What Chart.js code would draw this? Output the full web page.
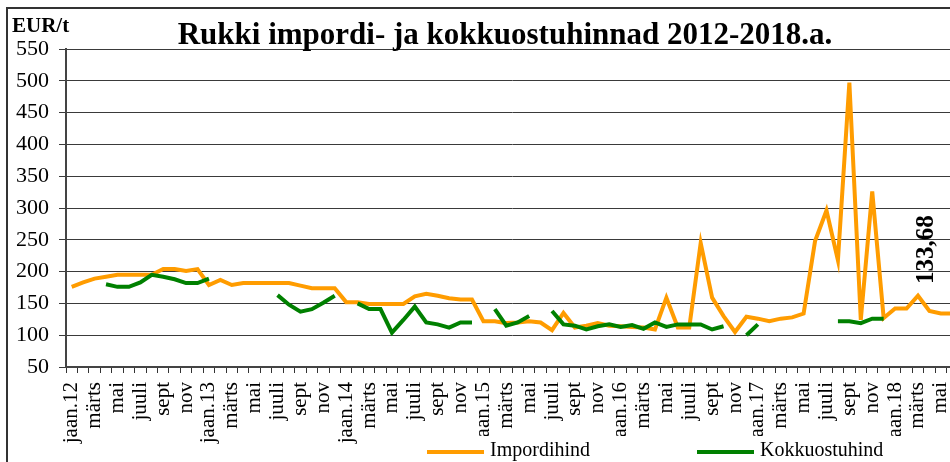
<!DOCTYPE html>
<html>
<head>
<meta charset="utf-8">
<title>Rukki impordi- ja kokkuostuhinnad 2012-2018.a.</title>
<script src="https://cdn.jsdelivr.net/npm/chart.js@4/dist/chart.umd.min.js"></script>
<style>
    html, body { margin: 0; padding: 0; background: #fff; overflow: hidden; }
    canvas { display: block; }
</style>
</head>
<body>
<canvas id="rukkiChart" width="1010" height="480"></canvas>
<script>
// months jaan.2012 .. juuni 2018
const monthNames = ['jaan', 'veebr', 'märts', 'apr', 'mai', 'juuni', 'juuli', 'aug', 'sept', 'okt', 'nov', 'dets'];
const years = ['12', '13', '14', '15', '16', '17', '18'];
const monthCount = 78;

// EUR/t
const importPrice = [
    176, 183, 189, 192, 195, 195, 195, 195, 204, 204, 201, 204,
    179, 187, 179, 182, 182, 182, 182, 182, 178, 174, 174, 174,
    152, 152, 149, 149, 149, 149, 161, 165, 162, 158, 156, 156,
    122, 122, 119, 120, 122, 120, 108, 135, 112, 115, 119, 115,
    114, 113, 112, 109, 159, 112, 112, 245, 159, 130, 105, 129,
    126, 122, 126, 128, 134, 248, 296, 218, 497, 124, 326, 127,
    142, 142, 162, 138, 134, 134
];
const purchasePrice = [
    null, null, null, 180, 176, 176, 183, 195, 192, 188, 182, 182,
    189, null, null, null, null, null, 163, 148, 137, 141, 151, 162,
    null, 150, 141, 141, 104, 124, 145, 120, 117, 112, 120, 120,
    null, 141, 115, 120, 130, null, 138, 117, 115, 109, 114, 117,
    113, 116, 110, 120, 113, 117, 117, 117, 109, 114, null, 100,
    117, null, null, null, null, null, null, 122, 122, 119, 126, 126,
    null, null, null, null, null, null
];
const yTicks = { min: 50, max: 550, step: 50 };
const valueLabel = { index: 75, text: '133,68' };

const categories = [];
years.forEach(function(y) {
    monthNames.forEach(function(m, i) {
        if (categories.length < monthCount) {
            categories.push(i === 0 ? 'jaan.' + y : m);
        }
    });
});

const serif = "'Liberation Serif', 'Times New Roman', serif";

const framePlugin = {
    id: 'frame',
    beforeDraw: function(chart) {
        const ctx = chart.ctx;
        ctx.save();
        ctx.fillStyle = '#fff';
        ctx.fillRect(0, 0, chart.width, chart.height);
        ctx.strokeStyle = '#333';
        ctx.lineWidth = 2;
        ctx.strokeRect(7, 8, chart.width - 14, chart.height);
        ctx.restore();
    },
    afterDatasetsDraw: function(chart) {
        const ctx = chart.ctx;
        const pt = chart.getDatasetMeta(0).data[valueLabel.index];
        ctx.save();
        ctx.translate(pt.x - 3, pt.y - 27);
        ctx.rotate(-Math.PI / 2);
        ctx.font = 'bold 25px ' + serif;
        ctx.fillStyle = '#000';
        ctx.textAlign = 'left';
        ctx.textBaseline = 'middle';
        ctx.fillText(valueLabel.text, 0, 0);
        ctx.restore();
    },
    afterDraw: function(chart) {
        const ctx = chart.ctx;
        ctx.save();
        // title + unit
        ctx.fillStyle = '#000';
        ctx.textBaseline = 'alphabetic';
        ctx.font = 'bold 31px ' + serif;
        ctx.textAlign = 'center';
        ctx.fillText('Rukki impordi- ja kokkuostuhinnad 2012-2018.a.', chart.width / 2, 44);
        ctx.font = 'bold 21px ' + serif;
        ctx.textAlign = 'left';
        ctx.fillText('EUR/t', 12, 32);

        // legend box sits over the lower end of the month labels
        ctx.fillStyle = '#fff';
        ctx.fillRect(418, 436, 500, 50);
        const starts = [427, 697];
        chart.data.datasets.forEach(function(ds, i) {
            const x = starts[i];
            ctx.strokeStyle = ds.borderColor;
            ctx.lineWidth = 4;
            ctx.beginPath();
            ctx.moveTo(x, 452);
            ctx.lineTo(x + 57, 452);
            ctx.stroke();
            ctx.fillStyle = '#000';
            ctx.font = '20px ' + serif;
            ctx.textBaseline = 'middle';
            ctx.fillText(ds.label, x + 63, 451);
        });
        ctx.restore();
    }
};

const ctx = document.getElementById('rukkiChart').getContext('2d');
new Chart(ctx, {
    type: 'line',
    data: {
        labels: categories,
        datasets: [{
            label: 'Impordihind',
            data: importPrice,
            borderColor: '#FF9C00',
            borderWidth: 4,
            pointRadius: 0,
            tension: 0,
            order: 2
        }, {
            label: 'Kokkuostuhind',
            data: purchasePrice,
            borderColor: '#008000',
            borderWidth: 4,
            pointRadius: 0,
            tension: 0,
            spanGaps: false,
            order: 1
        }]
    },
    options: {
        responsive: false,
        animation: false,
        devicePixelRatio: 1,
        layout: {
            padding: { top: 49, left: 0, right: 52, bottom: 0 }
        },
        plugins: {
            legend: { display: false },
            title: { display: false },
            tooltip: { enabled: false }
        },
        scales: {
            x: {
                offset: true,
                grid: {
                    offset: true,
                    drawOnChartArea: false,
                    drawTicks: true,
                    tickLength: 6,
                    color: '#333'
                },
                border: { color: '#444', width: 2 },
                ticks: {
                    autoSkip: false,
                    minRotation: 90,
                    maxRotation: 90,
                    padding: 9,
                    color: '#000',
                    font: { family: serif, size: 21 },
                    callback: function(value, index) {
                        return index % 2 === 0 ? this.getLabelForValue(value) : '';
                    }
                },
                afterFit: function(scale) {
                    scale.height = 113;
                }
            },
            y: {
                min: yTicks.min,
                max: yTicks.max,
                grid: {
                    color: '#3a3a3a',
                    tickLength: 7,
                    tickColor: '#3a3a3a'
                },
                border: { color: '#444', width: 2 },
                ticks: {
                    stepSize: yTicks.step,
                    padding: 10,
                    color: '#000',
                    font: { family: serif, size: 22 }
                },
                afterFit: function(scale) {
                    scale.width = 66;
                }
            }
        }
    },
    plugins: [framePlugin]
});
</script>
</body>
</html>
